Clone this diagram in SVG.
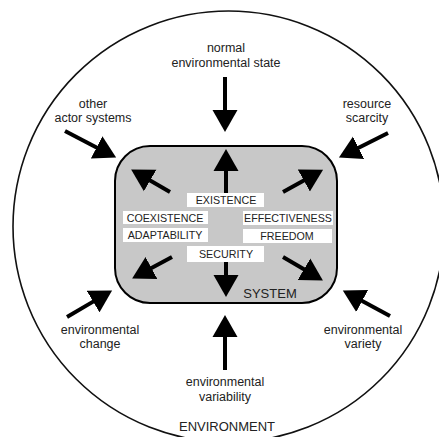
<svg xmlns="http://www.w3.org/2000/svg" width="439" height="437" viewBox="0 0 439 437">
  <style>
    .lbl { font-family: "Liberation Sans", Arial, sans-serif; font-size: 12.5px; fill: #222; text-anchor: middle; }
    .cap { font-family: "Liberation Sans", Arial, sans-serif; font-size: 13px; fill: #222; text-anchor: middle; }
    .val { font-family: "Liberation Sans", Arial, sans-serif; font-size: 10.7px; fill: #222; text-anchor: middle; }
    .tag { fill: #ffffff; stroke: none; }
    .arrow { stroke: #000; stroke-width: 4; fill: none; marker-end: url(#head); }
  </style>
  <defs>
    <marker id="head" markerUnits="userSpaceOnUse" markerWidth="24" markerHeight="26" viewBox="0 -13 24 26" refX="1" refY="0" orient="auto">
      <path d="M0,-12.5 L22,0 L0,12.5 z" fill="#000"/>
    </marker>
  </defs>
  <rect width="439" height="437" fill="#ffffff"/>

  <!-- environment boundary -->
  <g id="environment">
    <circle cx="228.6" cy="226.6" r="215.6" fill="none" stroke="#111" stroke-width="1.6"/>
    <text class="cap" x="227" y="431">ENVIRONMENT</text>
  </g>

  <!-- the system box -->
  <g id="system">
    <rect x="115" y="146" width="222" height="157" rx="35" ry="35" fill="#c8c8c8" stroke="#000" stroke-width="2"/>
    <text class="cap" x="270" y="298">SYSTEM</text>
  </g>

  <!-- influences and responses -->
  <g id="connectors">
    <!-- inward -->
    <line class="arrow" x1="225" y1="77" x2="225" y2="111"/>
    <line class="arrow" x1="65" y1="131" x2="97.5" y2="147.9"/>
    <line class="arrow" x1="388" y1="133" x2="357.7" y2="148.2"/>
    <line class="arrow" x1="67" y1="317" x2="94" y2="301.1"/>
    <line class="arrow" x1="390" y1="316" x2="361.3" y2="300.5"/>
    <line class="arrow" x1="225" y1="370" x2="225" y2="336"/>
    <!-- outward -->
    <line class="arrow" x1="226" y1="193" x2="226" y2="170"/>
    <line class="arrow" x1="226" y1="262" x2="226" y2="276"/>
    <line class="arrow" x1="170" y1="192" x2="149.3" y2="180"/>
    <line class="arrow" x1="283" y1="192" x2="304.7" y2="180"/>
    <line class="arrow" x1="172" y1="257" x2="150.6" y2="268.5"/>
    <line class="arrow" x1="283" y1="257" x2="304.8" y2="269.8"/>
  </g>

  <!-- system values -->
  <g id="existence">
    <rect class="tag" x="187" y="193" width="77" height="14"/>
    <text class="val" x="226" y="204">EXISTENCE</text>
  </g>
  <g id="coexistence">
    <rect class="tag" x="123" y="211" width="85" height="13"/>
    <text class="val" x="165" y="221.5">COEXISTENCE</text>
  </g>
  <g id="effectiveness">
    <rect class="tag" x="243" y="211" width="90" height="14"/>
    <text class="val" x="288" y="222">EFFECTIVENESS</text>
  </g>
  <g id="adaptability">
    <rect class="tag" x="123" y="228" width="85" height="14"/>
    <text class="val" x="165" y="239">ADAPTABILITY</text>
  </g>
  <g id="freedom">
    <rect class="tag" x="243" y="229" width="89" height="14"/>
    <text class="val" x="287" y="240">FREEDOM</text>
  </g>
  <g id="security">
    <rect class="tag" x="187" y="246" width="77" height="16"/>
    <text class="val" x="226" y="258">SECURITY</text>
  </g>

  <!-- environmental factors -->
  <g id="normal-state">
    <text class="lbl" x="226" y="52">normal</text>
    <text class="lbl" x="226" y="67">environmental state</text>
  </g>
  <g id="other-actors">
    <text class="lbl" x="93" y="108">other</text>
    <text class="lbl" x="93" y="122">actor systems</text>
  </g>
  <g id="resource-scarcity">
    <text class="lbl" x="367" y="108">resource</text>
    <text class="lbl" x="367" y="122">scarcity</text>
  </g>
  <g id="env-change">
    <text class="lbl" x="100" y="334">environmental</text>
    <text class="lbl" x="100" y="348">change</text>
  </g>
  <g id="env-variety">
    <text class="lbl" x="363" y="334">environmental</text>
    <text class="lbl" x="363" y="348">variety</text>
  </g>
  <g id="env-variability">
    <text class="lbl" x="225" y="386">environmental</text>
    <text class="lbl" x="225" y="401">variability</text>
  </g>
</svg>
